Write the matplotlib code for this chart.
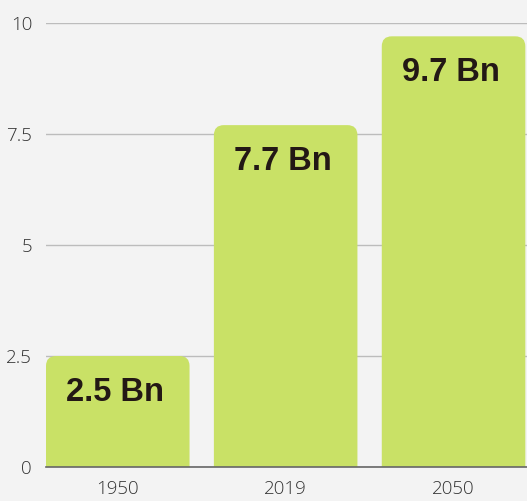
import matplotlib.pyplot as plt
from matplotlib.patches import FancyBboxPatch

years = ['1950', '2019', '2050']
population = [2.5, 7.7, 9.7]
labels = ['2.5 Bn', '7.7 Bn', '9.7 Bn']
yticks = [0, 2.5, 5, 7.5, 10]
ytick_labels = ['0', '2.5', '5', '7.5', '10']

bg = '#f3f3f3'
bar_color = '#c9e166'

fig = plt.figure(figsize=(5.27, 5.01), dpi=100, facecolor=bg)
ax = fig.add_axes([46 / 527, 34 / 501, 481 / 527, 444 / 501])
ax.set_facecolor(bg)

x = range(len(years))
width = 0.855
ax.set_xlim(-0.4275, 2.4375)
ax.set_ylim(0, 10)

# aspect so the corner radius is round in pixels
px_x = 481 / (2.4375 + 0.4275)
px_y = 444 / 10
aspect = px_x / px_y
r = 10 / px_x

for xi, val, lab in zip(x, population, labels):
    box = FancyBboxPatch((xi - width / 2, -1), width, val + 1,
                         boxstyle=f'round,pad=0,rounding_size={r}',
                         mutation_aspect=aspect, facecolor=bar_color,
                         edgecolor='none', zorder=2)
    ax.add_patch(box)
    ax.annotate(lab, xy=(xi - width / 2, val), xytext=(20, -21),
                textcoords='offset pixels', ha='left', va='top',
                fontsize=23.5, fontweight='bold', color='#231815',
                family=['Liberation Sans', 'DejaVu Sans'], zorder=3)

ax.set_xticks(list(x))
ax.set_xticklabels(years)
ax.set_yticks(yticks)
ax.set_yticklabels(ytick_labels)
ax.tick_params(axis='both', length=0, labelsize=13.5, labelcolor='#333333')
ax.tick_params(axis='y', pad=10)
ax.tick_params(axis='x', pad=9)
for t in ax.get_xticklabels() + ax.get_yticklabels():
    t.set_family(['Open Sans', 'DejaVu Sans'])
    t.set_fontweight('light')

ax.set_axisbelow(True)
ax.grid(axis='y', color='#bcbcbc', linewidth=1)
ax.grid(axis='x', visible=False)
for s in ['top', 'right', 'left']:
    ax.spines[s].set_visible(False)
ax.spines['bottom'].set_color('#666666')
ax.spines['bottom'].set_linewidth(1.2)
ax.spines['bottom'].set_zorder(4)

fig.savefig('out.png', dpi=100, facecolor=bg)
